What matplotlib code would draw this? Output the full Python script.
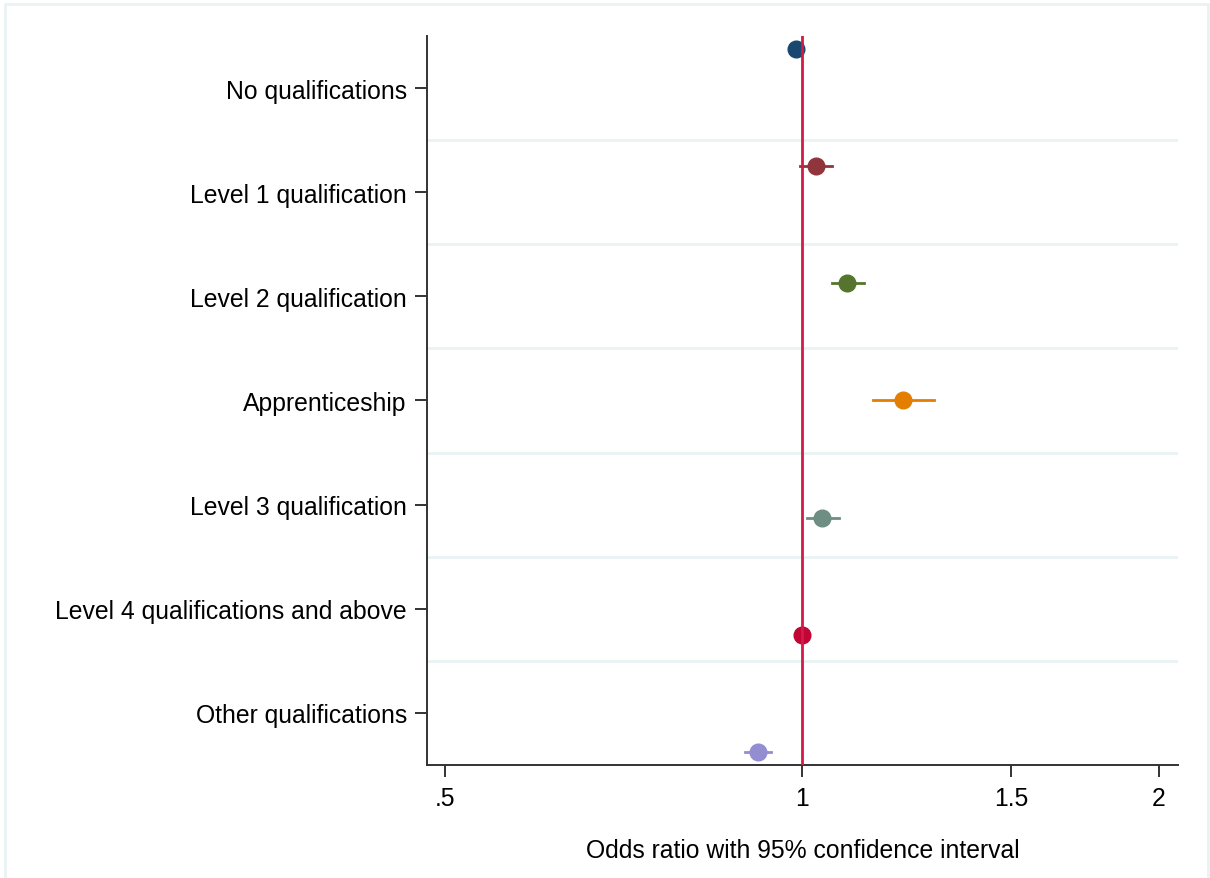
import matplotlib.pyplot as plt
import matplotlib.patches as patches
import numpy as np

plt.rcParams['font.family'] = ['Liberation Sans', 'DejaVu Sans']

# Odds ratios with 95% CI
categories = ['No qualifications', 'Level 1 qualification', 'Level 2 qualification',
              'Apprenticeship', 'Level 3 qualification',
              'Level 4 qualifications and above', 'Other qualifications']
odds = [0.988, 1.028, 1.091, 1.217, 1.040, 1.000, 0.918]
ci_low = [0.982, 0.996, 1.060, 1.148, 1.010, 1.000, 0.895]
ci_high = [0.994, 1.060, 1.128, 1.292, 1.074, 1.000, 0.942]
colors = ['#1a476f', '#90353b', '#55752f', '#e37e00', '#6e8e84', '#c10534', '#938dd2']
xticks = [0.5, 1, 1.5, 2]
xtick_labels = ['.5', '1', '1.5', '2']

fig = plt.figure(figsize=(12.1, 8.79), dpi=100)
ax = fig.add_axes([0.3529, 0.1286, 0.9736 - 0.3529, 0.9579 - 0.1286])

# outer frame like the Stata graph region
fig.patches.append(patches.Rectangle((5 / 1210, -0.05), 1203 / 1210, 1.05 - 5 / 879,
                                     transform=fig.transFigure, fill=False,
                                     edgecolor='#eaf2f3', lw=2))

n = len(categories)
pos = np.arange(1, n + 1)
offsets = np.linspace(-0.375, 0.375, n)

for i in range(n):
    y = pos[i] + offsets[i]
    ax.plot([ci_low[i], ci_high[i]], [y, y], color=colors[i], lw=2, zorder=3)
    ax.plot(odds[i], y, 'o', color=colors[i], ms=12, zorder=4)

ax.axvline(1, color='#d41a46', lw=2, zorder=5)

for g in np.arange(1.5, n, 1.0):
    ax.axhline(g, color='#eaf2f3', lw=2, zorder=1)

ax.set_xscale('log')
ax.set_xlim(0.483, 2.075)
ax.set_xticks(xticks)
ax.set_xticklabels(xtick_labels)
ax.minorticks_off()
ax.set_ylim(n + 0.5, 0.5)
ax.set_yticks(pos)
ax.set_yticklabels(categories)

ax.tick_params(axis='both', labelsize=17.8, length=8.5, width=1.4, color='#333333')
ax.tick_params(axis='y', pad=6)
ax.tick_params(axis='x', pad=7)
ax.set_xlabel('Odds ratio with 95% confidence interval', fontsize=17.8, labelpad=20)

for s in ['top', 'right']:
    ax.spines[s].set_visible(False)
for s in ['left', 'bottom']:
    ax.spines[s].set_linewidth(1.4)
    ax.spines[s].set_color('#333333')

fig.savefig('out.png', dpi=100)
